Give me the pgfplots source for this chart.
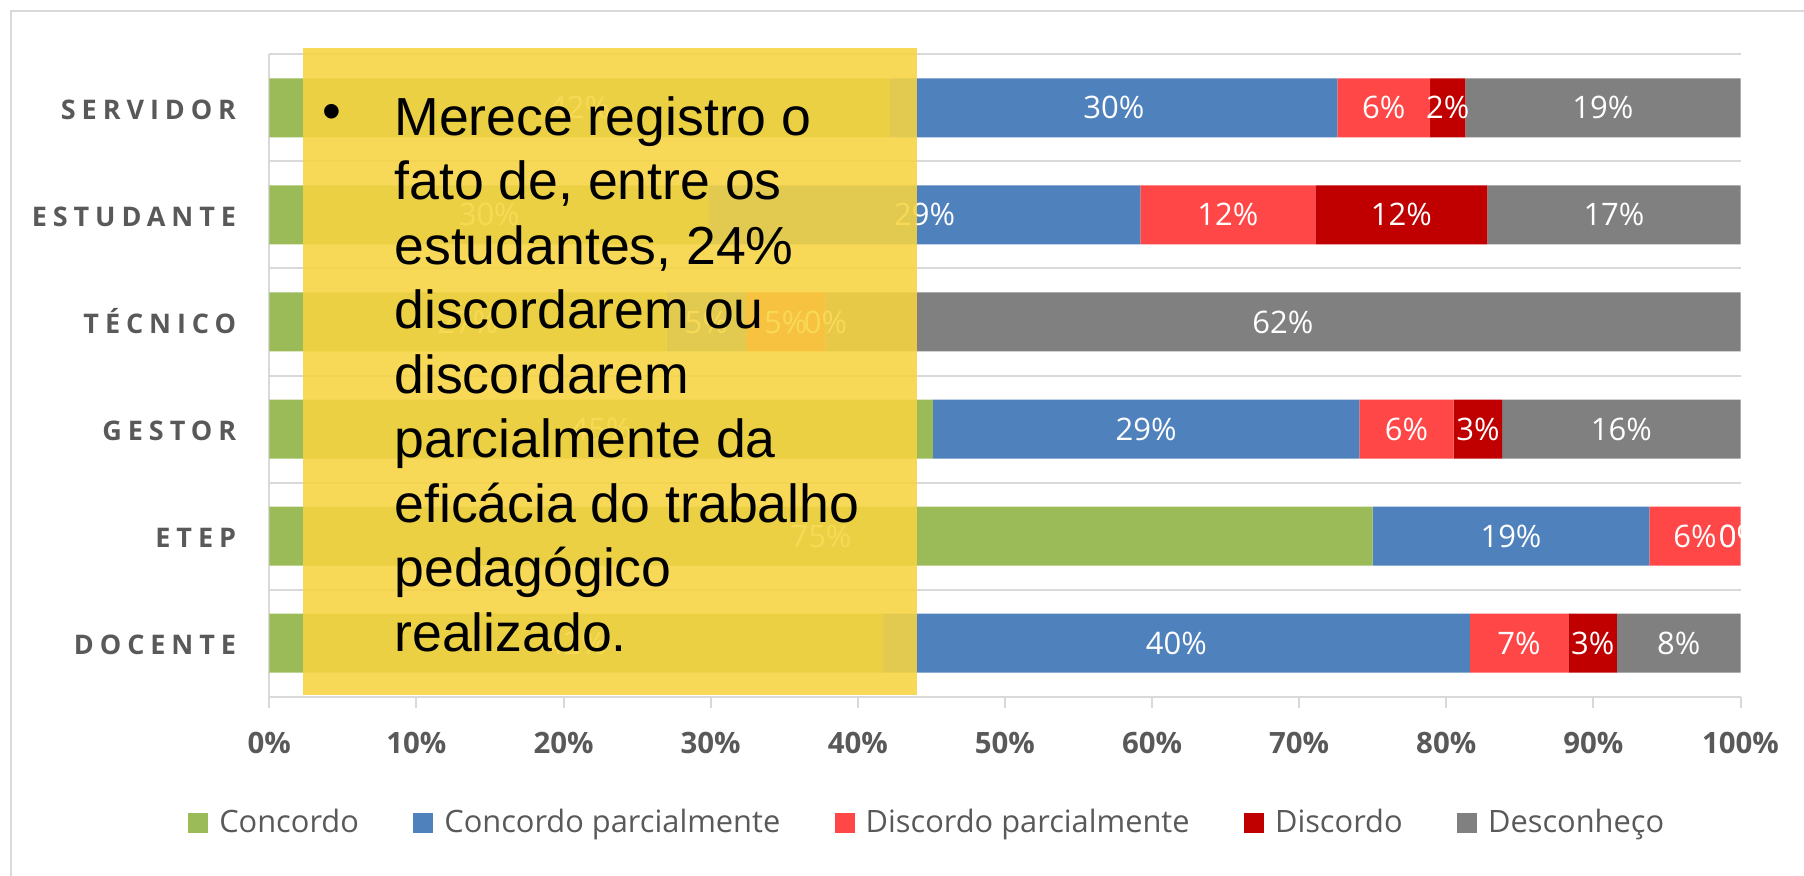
\documentclass[border=0pt]{standalone}
\usepackage{pgfplots}
\pgfplotsset{compat=1.18}
\usepackage{pgfplotstable}
\usepackage{fontspec}
\setmainfont{Open Sans}
\newfontfamily\catfont{Open Sans}[LetterSpace=22]
\newfontfamily\boxfont{Liberation Sans}
\definecolor{cgreen}{HTML}{9BBB59}
\definecolor{cblue}{HTML}{4F81BD}
\definecolor{cred}{HTML}{FF4747}
\definecolor{cdred}{HTML}{C00000}
\definecolor{cgray}{HTML}{808080}
\definecolor{txtgray}{HTML}{595959}
\definecolor{gridgray}{HTML}{D9D9D9}
\definecolor{boxyellow}{HTML}{F7D440}
% rows: 0 DOCENTE, 1 ETEP, 2 GESTOR, 3 TECNICO, 4 ESTUDANTE, 5 SERVIDOR
\pgfplotstableread{
y v
0 41.7
1 75.0
2 45.1
3 27.0
4 29.9
5 42.2
}\tconc
\pgfplotstableread{
y v
0 39.9
1 18.8
2 29.0
3 5.4
4 29.3
5 30.4
}\tconcp
\pgfplotstableread{
y v
0 6.7
1 6.2
2 6.4
3 5.4
4 11.9
5 6.3
}\tdiscp
\pgfplotstableread{
y v
0 3.3
1 0
2 3.3
3 0
4 11.7
5 2.4
}\tdisc
\pgfplotstableread{
y v
0 8.4
1 0
2 16.2
3 62.2
4 17.2
5 18.7
}\tdesc
% data labels: centre of each segment, rounded value
\pgfplotstableread{
x y lab
21.1 5 42
57.4 5 30
75.75 5 6
80.1 5 2
90.65 5 19
14.95 4 30
44.55 4 29
65.15 4 12
76.95 4 12
91.4 4 17
13.5 3 27
29.7 3 5
35.1 3 5
37.8 3 0
68.9 3 62
22.55 2 45
59.6 2 29
77.3 2 6
82.15 2 3
91.9 2 16
37.5 1 75
84.4 1 19
96.9 1 6
100 1 0
100 1 0
20.85 0 42
61.65 0 40
84.95 0 7
89.95 0 3
95.8 0 8
}\tlabels
\begin{document}
\begin{tikzpicture}
\useasboundingbox (0,0) rectangle (902pt,437.5pt);
\draw[gridgray,line width=1pt] (5.5pt,-2pt) -- (5.5pt,432pt) -- (904pt,432pt);
\begin{axis}[
  at={(134.65pt,89.15pt)}, anchor=south west,
  scale only axis, width=735.6pt, height=321.2pt,
  xbar stacked, bar width=29.5pt,
  xmin=0, xmax=100, ymin=-0.5, ymax=5.5, enlargelimits=false,
  axis x line*=bottom, axis y line*=left,
  axis line style={gridgray, line width=1pt, -},
  /pgf/number format/assume math mode=true,
  xtick={0,10,...,100},
  xticklabel={\pgfmathprintnumber{\tick}\%},
  tick align=outside,
  major tick length=5.5pt,
  tick style={gridgray, line width=1pt},
  ytick={0,...,5},
  yticklabels={DOCENTE,ETEP,GESTOR,TÉCNICO,ESTUDANTE,SERVIDOR},
  minor ytick={-0.5,0.5,...,5.5},
  yminorgrids=true,
  minor grid style={gridgray, line width=1pt},
  ytick style={draw=none},
  minor tick length=0pt,
  xticklabel shift=0pt,
  yticklabel shift=0pt,
  xticklabel style={font=\bfseries\fontsize{14.7}{17}\selectfont, text=txtgray, anchor=base, inner sep=0pt, yshift=-22.75pt},
  yticklabel style={font=\catfont\bfseries\fontsize{13.5}{16}\selectfont, text=txtgray, anchor=base east, inner sep=0pt, xshift=-10.9pt, yshift=-5.8pt},
  legend style={draw=none, fill=none, inner sep=0pt, outer sep=0pt,
    at={(axis description cs:0,0)}, anchor=west, xshift=-40.5pt, yshift=-63pt,
    legend columns=-1, font=\fontsize{15.4}{18}\selectfont, text=txtgray,
    /tikz/every even column/.append style={column sep=27.2pt},
    /tikz/every odd column/.append style={column sep=5.5pt},
    nodes={inner sep=0pt}},
  legend image code/.code={\fill[#1] (0pt,-5pt) rectangle (10pt,5pt);},
]
\addplot[fill=cgreen, draw=none] table[x=v,y=y]{\tconc};
\addplot[fill=cblue, draw=none] table[x=v,y=y]{\tconcp};
\addplot[fill=cred, draw=none] table[x=v,y=y]{\tdiscp};
\addplot[fill=cdred, draw=none] table[x=v,y=y]{\tdisc};
\addplot[fill=cgray, draw=none] table[x=v,y=y]{\tdesc};
\legend{Concordo, Concordo parcialmente, Discordo parcialmente, Discordo, Desconheço}
\end{axis}
\begin{scope}
\clip (134.65pt,89.15pt) rectangle (870.25pt,410.35pt);
\begin{axis}[
  at={(134.65pt,89.15pt)}, anchor=south west,
  scale only axis, width=735.6pt, height=321.2pt,
  xmin=0, xmax=100, ymin=-0.5, ymax=5.5, enlargelimits=false,
  hide axis,
]
\addplot[scatter, only marks, mark=*, mark size=0pt,
  mark options={draw=none, fill=none},
  scatter/use mapped color={draw=none, fill=none},
  point meta=explicit symbolic,
  scatter/@pre marker code/.code={\node[anchor=center, inner sep=0pt, text=white, font=\fontsize{15.5}{18}\selectfont] {\pgfplotspointmeta\%};},
  scatter/@post marker code/.code={}]
  table[x=x, y=y, meta=lab]{\tlabels};
\end{axis}
\end{scope}
\fill[boxyellow, fill opacity=0.88] (151.35pt,90.15pt) rectangle (458.5pt,413.35pt);
\begin{scope}[every node/.style={anchor=base west, inner sep=0pt, font=\boxfont\fontsize{26.8}{32}\selectfont, text=black}]
\node[anchor=center] at (166pt,379pt) {•};
\node at (197pt,370pt) {Merece registro o};
\node at (197pt,337.75pt) {fato de, entre os};
\node at (197pt,305.5pt) {estudantes, 24\%};
\node at (197pt,273.25pt) {discordarem ou};
\node at (197pt,241pt) {discordarem};
\node at (197pt,208.75pt) {parcialmente da};
\node at (197pt,176.5pt) {eficácia do trabalho};
\node at (197pt,144.25pt) {pedagógico};
\node at (197pt,112pt) {realizado.};
\end{scope}
\end{tikzpicture}
\end{document}
